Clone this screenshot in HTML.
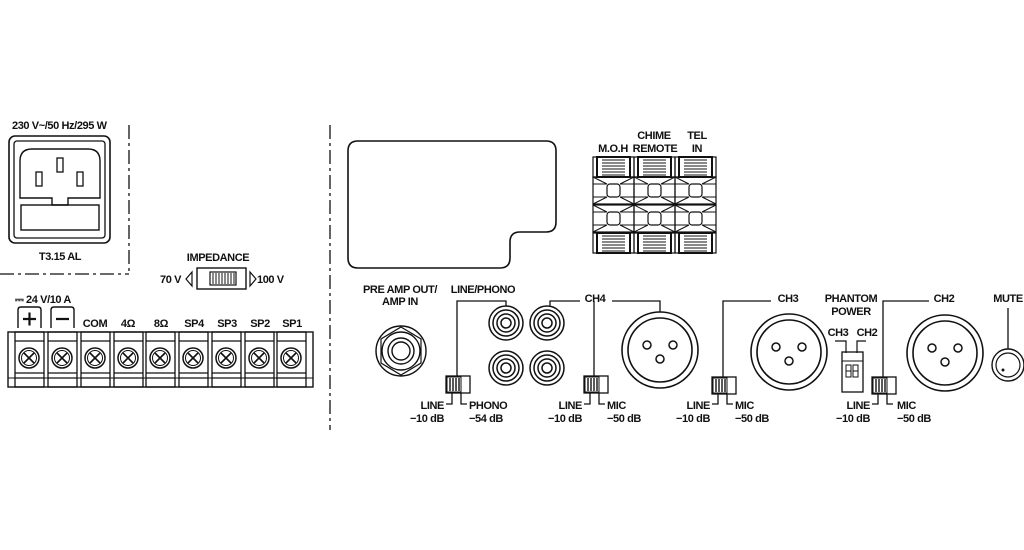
<!DOCTYPE html>
<html><head><style>
html,body{margin:0;padding:0;background:#fff;width:1024px;height:550px;overflow:hidden}
svg{display:block}
text{font-family:"Liberation Sans",sans-serif;font-weight:bold;font-size:11px;fill:#111;letter-spacing:-0.4px}
</style></head><body>
<svg width="1024" height="550" viewBox="0 0 1024 550" xmlns="http://www.w3.org/2000/svg">
<defs>
<g id="screw">
 <rect x="-14" y="-26" width="29" height="55" fill="none" stroke="#111" stroke-width="1.3"/>
 <line x1="-14" y1="-17" x2="15" y2="-17" stroke="#111" stroke-width="1.3"/>
 <line x1="-14" y1="15" x2="15" y2="15" stroke="#111" stroke-width="1.3"/>
 <line x1="-14" y1="20" x2="15" y2="20" stroke="#111" stroke-width="1.3"/>
 <circle r="10" fill="none" stroke="#111" stroke-width="1.5"/>
 <circle r="7.5" fill="none" stroke="#111" stroke-width="1"/>
 <path d="M-5 5 L5 -5 M-5 -5 L5 5" stroke="#111" stroke-width="1.6"/>
</g>
<g id="rca">
 <circle r="17" fill="none" stroke="#111" stroke-width="1.5"/>
 <circle r="13" fill="none" stroke="#111" stroke-width="1.5"/>
 <circle r="9" fill="none" stroke="#111" stroke-width="1.5"/>
 <circle r="5" fill="none" stroke="#111" stroke-width="1.5"/>
</g>
<g id="xlr">
 <circle r="38" fill="none" stroke="#111" stroke-width="1.6"/>
 <circle r="32" fill="none" stroke="#111" stroke-width="1.6"/>
 <circle cx="-13" cy="-5" r="4" fill="none" stroke="#111" stroke-width="1.5"/>
 <circle cx="13" cy="-5" r="4" fill="none" stroke="#111" stroke-width="1.5"/>
 <circle cx="0" cy="9" r="4" fill="none" stroke="#111" stroke-width="1.5"/>
</g>
<g id="sw">
 <rect x="0" y="0" width="24" height="17" fill="#fff" stroke="#111" stroke-width="1.3"/>
 <rect x="1" y="1" width="14" height="15" fill="#fff" stroke="#111" stroke-width="1"/>
 <path d="M4 2V15 M7 2V15 M10 2V15 M13 2V15" stroke="#111" stroke-width="1.4"/>
</g>
<g id="tcell">
 <rect x="0" y="0" width="41" height="27" fill="none" stroke="#111" stroke-width="1.2"/>
 <rect x="14" y="7" width="13" height="13" rx="3" fill="none" stroke="#111" stroke-width="1.2"/>
 <path d="M0 0 L14 7 M41 0 L27 7 M0 27 L14 20 M41 27 L27 20 M0 7 H14 M27 7 H41 M0 20H14 M27 20H41" stroke="#111" stroke-width="1"/>
</g>
<g id="tstrip">
 <rect x="0" y="0" width="41" height="20" fill="none" stroke="#111" stroke-width="1.2"/>
 <rect x="4" y="0" width="33" height="20" fill="none" stroke="#111" stroke-width="2"/>
 <path d="M9 3H32 M9 6H32 M9 9H32 M9 12H32 M9 15H32 M9 18H32" stroke="#111" stroke-width="1"/>
</g>
</defs>

<path d="M129 125 V275 M0 274 H129 M330 125 V430" stroke="#111" stroke-width="1.3" stroke-dasharray="14,4,3,4" fill="none"/>

<text x="12" y="129" font-size="10.5">230 V~/50 Hz/295 W</text>
<rect x="9" y="136" width="101" height="107" rx="6" fill="none" stroke="#111" stroke-width="1.6"/>
<rect x="14" y="141" width="91" height="97" rx="3" fill="none" stroke="#111" stroke-width="1.3"/>
<path d="M20 161 Q20 149 32 149 H88 Q100 149 100 161 V198 H68 V205 H52 V198 H20 Z" fill="none" stroke="#111" stroke-width="1.4"/>
<rect x="21" y="205" width="78" height="25" fill="none" stroke="#111" stroke-width="1.4"/>
<rect x="57" y="158" width="6" height="14" fill="none" stroke="#111" stroke-width="1.3"/>
<rect x="36" y="172" width="6" height="14" fill="none" stroke="#111" stroke-width="1.3"/>
<rect x="77" y="172" width="6" height="14" fill="none" stroke="#111" stroke-width="1.3"/>
<text x="60" y="260" text-anchor="middle">T3.15 AL</text>

<text x="218" y="261" text-anchor="middle">IMPEDANCE</text>
<text x="160" y="283">70 V</text>
<path d="M192 272 L186 279 L192 286 Z" fill="none" stroke="#111" stroke-width="1.2"/>
<rect x="197" y="268" width="49" height="21" fill="none" stroke="#111" stroke-width="1.4"/>
<rect x="210" y="272" width="26" height="13" fill="none" stroke="#111" stroke-width="1.2"/>
<path d="M213 273V284 M216 273V284 M219 273V284 M222 273V284 M225 273V284 M228 273V284 M231 273V284 M234 273V284" stroke="#111" stroke-width="1"/>
<path d="M250 272 L256 279 L250 286 Z" fill="none" stroke="#111" stroke-width="1.2"/>
<text x="257" y="283">100 V</text>

<text x="15" y="303" font-size="10.5">⎓ 24 V/10 A</text>
<path d="M18 328 V310 Q18 307 21 307 H38 Q41 307 41 310 V328" fill="none" stroke="#111" stroke-width="1.4"/>
<path d="M51 328 V310 Q51 307 54 307 H71 Q74 307 74 310 V328" fill="none" stroke="#111" stroke-width="1.4"/>
<path d="M23 319 H36 M29.5 312.5 V325.5 M56 319 H69" stroke="#111" stroke-width="2.2"/>
<text x="95" y="327" text-anchor="middle">COM</text>
<text x="128" y="327" text-anchor="middle">4Ω</text>
<text x="161" y="327" text-anchor="middle">8Ω</text>
<text x="194" y="327" text-anchor="middle">SP4</text>
<text x="227" y="327" text-anchor="middle">SP3</text>
<text x="260" y="327" text-anchor="middle">SP2</text>
<text x="292" y="327" text-anchor="middle">SP1</text>
<rect x="8" y="332" width="305" height="55" fill="none" stroke="#111" stroke-width="1.4"/>
<path d="M8 378 H313" stroke="#111" stroke-width="1"/>
<use href="#screw" x="29" y="358"/>
<use href="#screw" x="62" y="358"/>
<use href="#screw" x="95" y="358"/>
<use href="#screw" x="128" y="358"/>
<use href="#screw" x="160" y="358"/>
<use href="#screw" x="193" y="358"/>
<use href="#screw" x="226" y="358"/>
<use href="#screw" x="259" y="358"/>
<use href="#screw" x="291" y="358"/>

<path d="M358 141 H546 Q556 141 556 151 V222 Q556 232 546 232 H520 Q510 232 510 242 V258 Q510 268 500 268 H358 Q348 268 348 258 V151 Q348 141 358 141 Z" fill="none" stroke="#111" stroke-width="1.6"/>

<text x="613" y="152" text-anchor="middle">M.O.H</text>
<text x="654" y="139" text-anchor="middle">CHIME</text>
<text x="655" y="152" text-anchor="middle">REMOTE</text>
<text x="697" y="139" text-anchor="middle">TEL</text>
<text x="697" y="152" text-anchor="middle">IN</text>
<use href="#tstrip" x="593" y="157"/><use href="#tstrip" x="634" y="157"/><use href="#tstrip" x="675" y="157"/>
<use href="#tcell" x="593" y="177"/><use href="#tcell" x="634" y="177"/><use href="#tcell" x="675" y="177"/>
<use href="#tcell" x="593" y="205"/><use href="#tcell" x="634" y="205"/><use href="#tcell" x="675" y="205"/>
<use href="#tstrip" x="593" y="233"/><use href="#tstrip" x="634" y="233"/><use href="#tstrip" x="675" y="233"/>

<text x="400" y="293" text-anchor="middle">PRE AMP OUT/</text>
<text x="400" y="305" text-anchor="middle">AMP IN</text>
<circle cx="401" cy="351" r="25" fill="none" stroke="#111" stroke-width="1.4"/>
<path d="M401 327 L421 339 L421 363 L401 375 L381 363 L381 339 Z" fill="none" stroke="#111" stroke-width="1.2"/>
<circle cx="401" cy="351" r="19" fill="none" stroke="#111" stroke-width="1.4"/>
<circle cx="401" cy="351" r="13" fill="none" stroke="#111" stroke-width="1.4"/>
<circle cx="401" cy="351" r="9" fill="none" stroke="#111" stroke-width="1.4"/>

<text x="483" y="293" text-anchor="middle">LINE/PHONO</text>
<path d="M457 377 V301 H506 V306" fill="none" stroke="#111" stroke-width="1.3"/>
<use href="#rca" x="506" y="323"/><use href="#rca" x="506" y="368"/>
<use href="#rca" x="547" y="323"/><use href="#rca" x="547" y="368"/>
<use href="#sw" x="446" y="376"/>
<path d="M452 393 V404 H446 M461 393 V404 H467" fill="none" stroke="#111" stroke-width="1.3"/>
<text x="444" y="409" text-anchor="end">LINE</text>
<text x="444" y="422" text-anchor="end">−10 dB</text>
<text x="469" y="409">PHONO</text>
<text x="469" y="422">−54 dB</text>

<text x="595" y="302" text-anchor="middle">CH4</text>
<path d="M550 306 V301 H580 M612 301 H660 V312 M594 301 V377" fill="none" stroke="#111" stroke-width="1.3"/>
<use href="#xlr" x="660" y="350"/>
<use href="#sw" x="584" y="376"/>
<path d="M590 393 V404 H584 M599 393 V404 H605" fill="none" stroke="#111" stroke-width="1.3"/>
<text x="582" y="409" text-anchor="end">LINE</text>
<text x="582" y="422" text-anchor="end">−10 dB</text>
<text x="607" y="409">MIC</text>
<text x="607" y="422">−50 dB</text>

<text x="788" y="302" text-anchor="middle">CH3</text>
<path d="M723 377 V301 H771" fill="none" stroke="#111" stroke-width="1.3"/>
<use href="#xlr" x="789" y="352"/>
<use href="#sw" x="712" y="377"/>
<path d="M718 394 V404 H712 M727 394 V404 H733" fill="none" stroke="#111" stroke-width="1.3"/>
<text x="710" y="409" text-anchor="end">LINE</text>
<text x="710" y="422" text-anchor="end">−10 dB</text>
<text x="735" y="409">MIC</text>
<text x="735" y="422">−50 dB</text>

<text x="851" y="302" text-anchor="middle">PHANTOM</text>
<text x="851" y="315" text-anchor="middle">POWER</text>
<text x="838" y="336" text-anchor="middle">CH3</text>
<text x="867" y="336" text-anchor="middle">CH2</text>
<path d="M846 353 V341 H835 M857 353 V341 H866" fill="none" stroke="#111" stroke-width="1.2"/>
<rect x="842" y="352" width="21" height="40" fill="none" stroke="#111" stroke-width="1.3"/>
<line x1="842" y1="361" x2="863" y2="361" stroke="#111" stroke-width="1"/>
<rect x="846" y="365" width="5" height="12" fill="none" stroke="#111" stroke-width="1"/>
<rect x="853" y="365" width="5" height="12" fill="none" stroke="#111" stroke-width="1"/>
<path d="M846 371 H851 M853 371 H858" stroke="#111" stroke-width="1"/>

<text x="944" y="302" text-anchor="middle">CH2</text>
<path d="M883 377 V301 H929" fill="none" stroke="#111" stroke-width="1.3"/>
<use href="#xlr" x="945" y="353"/>
<use href="#sw" x="872" y="377"/>
<path d="M878 394 V404 H872 M887 394 V404 H893" fill="none" stroke="#111" stroke-width="1.3"/>
<text x="870" y="409" text-anchor="end">LINE</text>
<text x="870" y="422" text-anchor="end">−10 dB</text>
<text x="897" y="409">MIC</text>
<text x="897" y="422">−50 dB</text>

<text x="1008" y="302" text-anchor="middle">MUTE</text>
<line x1="1008" y1="308" x2="1008" y2="349" stroke="#111" stroke-width="1.3"/>
<circle cx="1008" cy="365" r="16" fill="none" stroke="#111" stroke-width="1.4"/>
<circle cx="1008" cy="365" r="12" fill="none" stroke="#111" stroke-width="1.2"/>
<circle cx="1003" cy="370" r="1.5" fill="#111"/>
</svg>
</body></html>
